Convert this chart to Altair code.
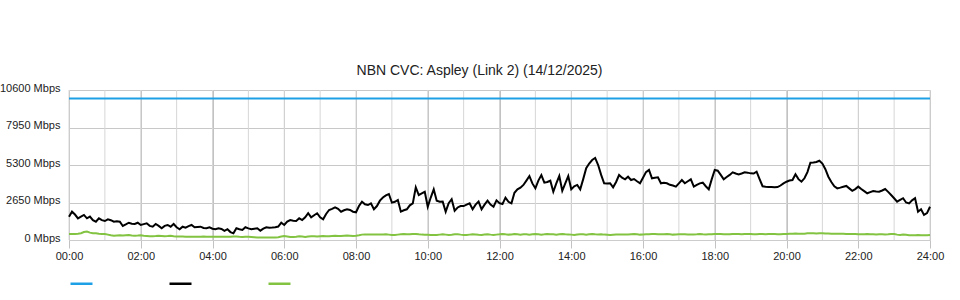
import altair as alt
import pandas as pd

title_text = "NBN CVC: Aspley (Link 2) (14/12/2025)"
series_names = ["CVC Capacity", "Download", "Upload"]
series_colors = ["#1ea0e6", "#000000", "#82c341"]

x_label_hours = [0, 2, 4, 6, 8, 10, 12, 14, 16, 18, 20, 22, 24]
grid_hours = list(range(25))
y_ticks = [0, 2650, 5300, 7950, 10600]

capacity_hours = [0, 24]
capacity_values = [10000, 10000]

# 5-minute samples, 00:00 .. 24:00 (289 values), Mbps
download_values = [
    1650, 2000, 1800, 1530, 1650, 1770, 1530, 1650, 1400, 1290, 1530, 1400,
    1340, 1460, 1400, 1290, 1330, 1290, 990, 1100, 1220, 1150, 1130, 1220,
    1060, 1120, 1180, 1000, 940, 1130, 1000, 830, 1000, 1060, 940, 1130,
    900, 760, 940, 870, 980, 1060, 900, 920, 940, 850, 830, 900,
    800, 760, 830, 780, 640, 760, 560, 470, 830, 760, 710, 900,
    820, 760, 800, 830, 660, 800, 900, 870, 880, 900, 950, 1220,
    1060, 1300, 1410, 1360, 1340, 1530, 1410, 1600, 1890, 1600, 1750, 1890,
    1600, 1460, 1840, 2120, 2200, 2310, 2200, 2000, 2100, 2170, 2120, 2000,
    1960, 2400, 2710, 2520, 2470, 2590, 2170, 2400, 2780, 3000, 3150, 3250,
    2640, 2700, 2830, 2000, 2100, 2170, 2450, 2590, 3720, 3180, 3300, 3410,
    2350, 3000, 3580, 2780, 2700, 2710, 2000, 2600, 2880, 2070, 2300, 2400,
    2400, 2500, 2590, 2170, 2500, 2710, 2170, 2500, 2780, 2500, 2350, 2800,
    2600, 2540, 2990, 2700, 2590, 3340, 3580, 3700, 3890, 4200, 4520, 4000,
    3650, 4200, 4590, 4050, 4100, 4190, 3410, 4000, 4520, 3480, 4000, 4520,
    3580, 3800, 3890, 3580, 4300, 5070, 5400, 5650, 5800, 5300, 4600, 4010,
    4000, 4010, 3720, 4100, 4590, 4400, 4290, 4470, 4240, 4310, 4150, 4010,
    4400, 4800, 4950, 4360, 4400, 4430, 4010, 4050, 4010, 3900, 3850, 3770,
    4000, 4240, 4010, 4150, 4290, 3770, 3900, 4000, 4050, 3800, 3580, 4300,
    4950, 4900, 4600, 4290, 4450, 4600, 4780, 4700, 4640, 4700, 4780, 4760,
    4710, 4700, 4830, 4300, 3800, 3770, 3750, 3740, 3720, 3740, 3850, 4000,
    4120, 4200, 4240, 4640, 4300, 4120, 4360, 4800, 5460, 5480, 5510, 5600,
    5400, 5000, 4470, 4100, 3800, 3650, 3700, 3760, 3820, 3650, 3480, 3600,
    3770, 3600, 3450, 3300, 3380, 3460, 3430, 3410, 3500, 3600, 3400, 3180,
    2950, 2710, 2830, 2950, 2650, 2590, 2800, 2950, 2000, 2170, 1770, 1900,
    2350,
]

upload_values = [
    420, 420, 430, 450, 480, 560, 600, 520, 480, 470, 440, 420,
    430, 380, 330, 300, 320, 330, 310, 330, 350, 320, 300, 310,
    330, 300, 280, 260, 270, 280, 300, 290, 270, 280, 300, 270,
    250, 240, 240, 230, 230, 230, 230, 230, 230, 240, 230, 230,
    230, 230, 230, 230, 230, 230, 230, 240, 250, 230, 220, 230,
    230, 220, 200, 180, 170, 170, 170, 170, 170, 180, 200, 240,
    280, 250, 220, 210, 230, 260, 240, 220, 250, 270, 260, 240,
    260, 280, 270, 260, 280, 300, 290, 280, 300, 310, 300, 290,
    300, 330, 380, 390, 390, 380, 380, 390, 380, 390, 400, 380,
    350, 360, 380, 400, 420, 410, 400, 420, 430, 400, 380, 370,
    370, 360, 360, 360, 380, 400, 380, 360, 370, 400, 410, 380,
    360, 350, 380, 400, 390, 370, 360, 390, 410, 380, 360, 380,
    400, 430, 400, 380, 390, 420, 400, 380, 400, 410, 380, 400,
    420, 400, 380, 400, 430, 410, 400, 380, 400, 420, 400, 390,
    380, 360, 390, 410, 400, 380, 400, 420, 400, 390, 410, 380,
    370, 360, 370, 380, 380, 380, 380, 390, 410, 420, 400, 380,
    390, 400, 410, 420, 420, 410, 400, 410, 420, 400, 380, 390,
    400, 410, 400, 390, 380, 390, 400, 420, 400, 390, 400, 410,
    420, 430, 420, 410, 400, 410, 420, 430, 420, 410, 420, 430,
    420, 400, 410, 420, 420, 410, 420, 430, 420, 410, 400, 420,
    430, 440, 450, 460, 450, 440, 450, 470, 480, 470, 460, 480,
    470, 460, 460, 450, 450, 450, 440, 440, 430, 420, 420, 420,
    410, 400, 410, 420, 410, 400, 390, 410, 400, 390, 400, 420,
    430, 380, 360, 380, 370, 340, 330, 340, 350, 330, 330, 340,
    350,
]

sample_hours = [i * 5 / 60 for i in range(len(download_values))]

df = pd.concat([
    pd.DataFrame({"series": series_names[0], "hour": capacity_hours, "value": capacity_values}),
    pd.DataFrame({"series": series_names[1], "hour": sample_hours, "value": download_values}),
    pd.DataFrame({"series": series_names[2], "hour": sample_hours, "value": upload_values}),
], ignore_index=True)
df["order"] = df["series"].map({n: k for k, n in enumerate(series_names)})

FONT = "Liberation Sans"
x_scale = alt.Scale(domain=[0, 24], nice=False, zero=False)
y_scale = alt.Scale(domain=[0, 10600], nice=False)

x_axis = alt.Axis(
    values=x_label_hours,
    labelExpr="(datum.value < 10 ? '0' : '') + datum.value + ':00'",
    title=None,
    grid=True,
    gridColor="#c2c2c2",
    tickColor="#c2c2c2",
    tickSize=8,
    domainColor="#cccccc",
    labelFont=FONT,
    labelFontSize=11,
    labelColor="#222222",
    labelPadding=2,
    labelFlush=False,
)

hour_grid = alt.Chart(pd.DataFrame({"hour": grid_hours})).mark_rule(
    color="#d6d6d6", strokeWidth=1
).encode(x=alt.X("hour:Q", scale=x_scale, axis=x_axis))

lines = alt.Chart(df).mark_line(strokeWidth=2).encode(
    x=alt.X("hour:Q", scale=x_scale, axis=x_axis),
    y=alt.Y(
        "value:Q",
        scale=y_scale,
        axis=alt.Axis(
            values=y_ticks,
            labelExpr="datum.value + ' Mbps'",
            title=None,
            ticks=False,
            domain=False,
            gridColor="#c8c8c8",
            labelFont=FONT,
            labelFontSize=11,
            labelColor="#222222",
            labelPadding=9,
            labelOffset=-2,
        ),
    ),
    color=alt.Color(
        "series:N",
        scale=alt.Scale(domain=series_names, range=series_colors),
        legend=alt.Legend(
            orient="none",
            legendX=0,
            legendY=181,
            direction="horizontal",
            title=None,
            labelExpr="''",
            symbolType="stroke",
            symbolSize=484,
            symbolStrokeWidth=2.5,
            columnPadding=66,
            labelOffset=0,
            padding=0,
        ),
    ),
    order=alt.Order("order:Q"),
)

chart = alt.layer(hour_grid, lines).properties(
    width=861,
    height=150,
    padding={"left": 69, "top": 90, "right": 30, "bottom": 60},
    autosize="none",
    background="white",
    title=alt.TitleParams(
        title_text,
        font=FONT,
        fontSize=14,
        fontWeight="normal",
        color="#222222",
        anchor="middle",
        frame="group",
        dx=-20,
        offset=4,
    ),
).configure_view(stroke=None)

chart.save("out.html", embed_options={"renderer": "svg", "actions": False})
